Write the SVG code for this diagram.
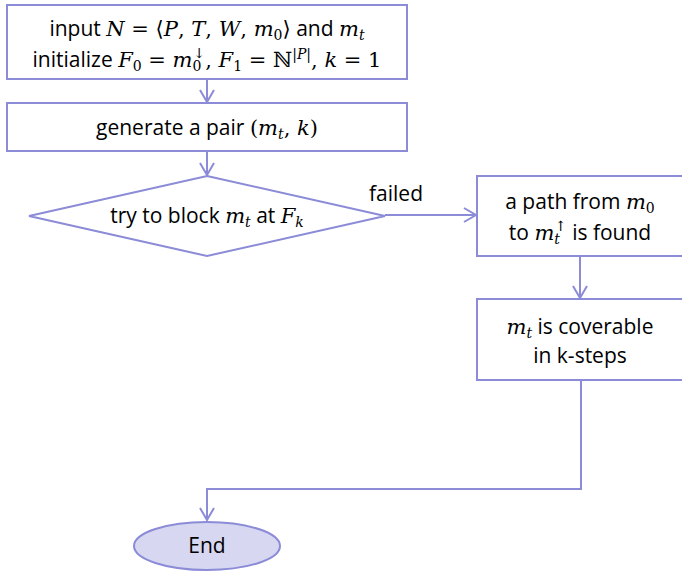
<svg xmlns="http://www.w3.org/2000/svg" width="682" height="572" viewBox="0 0 682 572">
  <style>
    .shape { fill: #ffffff; stroke: #8b8bd8; stroke-width: 2; }
    .term { fill: #d7d7f1; stroke: #8b8bd8; stroke-width: 2; }
    .conn { fill: none; stroke: #8b8bd8; stroke-width: 2; marker-end: url(#arrow); }
    .lbl { font-family: "Open Sans", "Liberation Sans", sans-serif; font-size: 21px; fill: #000; text-anchor: middle; }
    .m { font-family: "DejaVu Serif", serif; font-style: italic; font-size: 21px; }
    .u { font-family: "DejaVu Serif", serif; font-style: normal; font-size: 21px; }
    .s { font-family: "DejaVu Serif", serif; font-style: normal; font-size: 14px; }
    .si { font-family: "DejaVu Serif", serif; font-style: italic; font-size: 14px; }
  </style>
  <defs>
    <marker id="arrow" viewBox="-14 -9 16 18" refX="0" refY="0" markerWidth="16" markerHeight="18" markerUnits="userSpaceOnUse" orient="auto">
      <path d="M-12,-7 L0,0 L-12,7" fill="none" stroke="#8b8bd8" stroke-width="2"/>
    </marker>
  </defs>

  <!-- connectors -->
  <g id="connectors">
    <path class="conn" d="M207,79 L207,102"/>
    <path class="conn" d="M207,151 L207,175"/>
    <path class="conn" d="M385,215 L476,215"/>
    <path class="conn" d="M580,256 L580,298"/>
    <path class="conn" d="M581,380 L581,489 L207,489 L207,520"/>
    <text class="lbl" x="396" y="201">failed</text>
  </g>

  <!-- input / initialize -->
  <g id="init">
    <rect class="shape" x="7" y="5" width="400" height="74"/>
    <text class="lbl" x="207" y="36">input <tspan class="m">N</tspan><tspan class="u"> = ⟨</tspan><tspan class="m">P</tspan><tspan class="u">, </tspan><tspan class="m">T</tspan><tspan class="u">, </tspan><tspan class="m">W</tspan><tspan class="u">, </tspan><tspan class="m">m</tspan><tspan class="s" dy="4">0</tspan><tspan class="u" dy="-4">⟩</tspan> and <tspan class="m">m</tspan><tspan class="si" dy="4">t</tspan></text>
    <text class="lbl" x="207" y="67">initialize <tspan class="m">F</tspan><tspan class="s" dy="4">0</tspan><tspan class="u" dy="-4"> = </tspan><tspan class="m">m</tspan><tspan class="s" dy="4">0</tspan><tspan class="s" dx="-8" dy="-13">↓</tspan><tspan class="u" dy="9">, </tspan><tspan class="m">F</tspan><tspan class="s" dy="4">1</tspan><tspan class="u" dy="-4"> = ℕ</tspan><tspan class="s" dy="-8">|</tspan><tspan class="si">P</tspan><tspan class="s">|</tspan><tspan class="u" dy="8">, </tspan><tspan class="m">k</tspan><tspan class="u"> = 1</tspan></text>
  </g>

  <!-- generate pair -->
  <g id="generate">
    <rect class="shape" x="7" y="103" width="400" height="48"/>
    <text class="lbl" x="207" y="135">generate a pair <tspan class="u">(</tspan><tspan class="m">m</tspan><tspan class="si" dy="4">t</tspan><tspan class="u" dy="-4">, </tspan><tspan class="m">k</tspan><tspan class="u">)</tspan></text>
  </g>

  <!-- decision -->
  <g id="block">
    <polygon class="shape" points="207,176 385,216 207,256 29,216"/>
    <text class="lbl" x="207" y="223">try to block <tspan class="m">m</tspan><tspan class="si" dy="4">t</tspan><tspan dy="-4"> at </tspan><tspan class="m">F</tspan><tspan class="si" dy="4">k</tspan></text>
  </g>

  <!-- path found -->
  <g id="found">
    <rect class="shape" x="477" y="176" width="220" height="80"/>
    <text class="lbl" x="580" y="209">a path from <tspan class="m">m</tspan><tspan class="s" dy="4">0</tspan></text>
    <text class="lbl" x="580" y="240">to <tspan class="m">m</tspan><tspan class="si" dy="4">t</tspan><tspan class="s" dx="-5" dy="-13">↑</tspan><tspan dy="9"> is found</tspan></text>
  </g>

  <!-- coverable -->
  <g id="coverable">
    <rect class="shape" x="477" y="299" width="220" height="81"/>
    <text class="lbl" x="580" y="334"><tspan class="m">m</tspan><tspan class="si" dy="4">t</tspan><tspan dy="-4"> is coverable</tspan></text>
    <text class="lbl" x="580" y="363">in k-steps</text>
  </g>

  <!-- end -->
  <g id="end">
    <ellipse class="term" cx="207" cy="546" rx="73" ry="24"/>
    <text class="lbl" x="207" y="553">End</text>
  </g>
</svg>
